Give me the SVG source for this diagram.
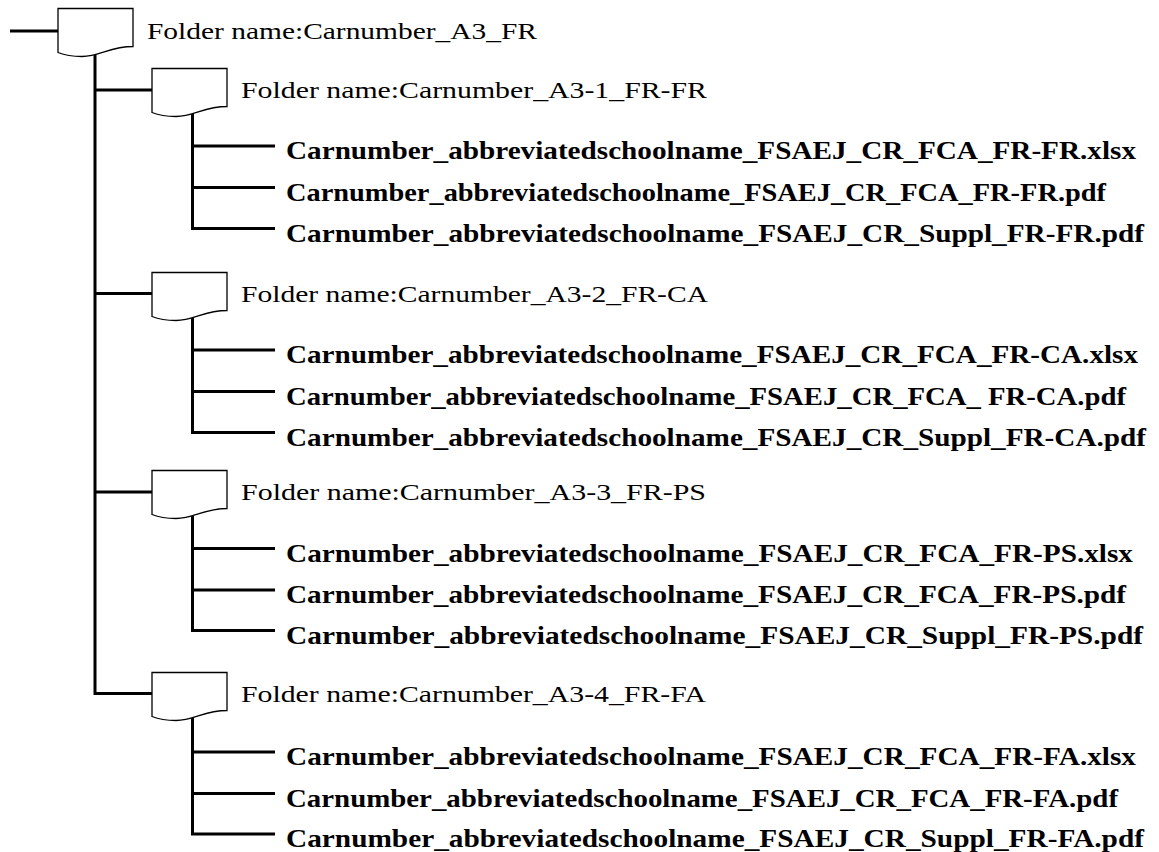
<svg xmlns="http://www.w3.org/2000/svg" width="1159" height="852" viewBox="0 0 1159 852">
<style>
.bg{fill:#ffffff}
.folder{fill:#ffffff;stroke:#000000;stroke-width:1.3;stroke-linejoin:miter}
.conn{fill:none;stroke:#000000;stroke-width:3;stroke-linecap:butt;stroke-linejoin:miter}
.ftxt{font-family:"Liberation Serif","Noto Sans CJK JP",serif;font-size:23px;fill:#000000}
.file{font-family:"Liberation Serif","Noto Sans CJK JP",serif;font-size:25.5px;font-weight:bold;fill:#000000}
</style>
<defs>
<path id="doc" d="M0,0 H75 V38 C52,38 42,48 24,48 C12,48 5,46 0,44 Z"/>
</defs>
<rect class="bg" x="0" y="0" width="1159" height="852"/>
<g id="connectors">
<line class="conn" x1="10" y1="31" x2="58" y2="31"/>
<path class="conn" d="M95,55 V693.5 H152"/>
<line class="conn" x1="95" y1="90" x2="152" y2="90"/>
<line class="conn" x1="95" y1="293.5" x2="152" y2="293.5"/>
<line class="conn" x1="95" y1="492" x2="152" y2="492"/>
<path class="conn" d="M192.5,114 V228.5 H275"/>
<line class="conn" x1="192.5" y1="146" x2="275" y2="146"/>
<line class="conn" x1="192.5" y1="187.5" x2="275" y2="187.5"/>
<path class="conn" d="M192.5,318 V432.5 H275"/>
<line class="conn" x1="192.5" y1="350" x2="275" y2="350"/>
<line class="conn" x1="192.5" y1="391.5" x2="275" y2="391.5"/>
<path class="conn" d="M192.5,516 V630.5 H275"/>
<line class="conn" x1="192.5" y1="548.5" x2="275" y2="548.5"/>
<line class="conn" x1="192.5" y1="590" x2="275" y2="590"/>
<path class="conn" d="M192.5,718 V834 H275"/>
<line class="conn" x1="192.5" y1="752" x2="275" y2="752"/>
<line class="conn" x1="192.5" y1="793.5" x2="275" y2="793.5"/>
</g>
<g id="folder-root">
<use href="#doc" class="folder" x="58" y="8.5"/>
<text class="ftxt" x="147" y="38.5" textLength="390" lengthAdjust="spacingAndGlyphs">Folder name:Carnumber_A3_FR</text>
</g>
<g id="folder-A3-1">
<use href="#doc" class="folder" x="152" y="68.5"/>
<text class="ftxt" x="241" y="98" textLength="466" lengthAdjust="spacingAndGlyphs">Folder name:Carnumber_A3-1_FR-FR</text>
</g>
<g id="files-A3-1">
<text class="file" x="286" y="159" textLength="850" lengthAdjust="spacingAndGlyphs">Carnumber_abbreviatedschoolname_FSAEJ_CR_FCA_FR-FR.xlsx</text>
<text class="file" x="286" y="200.5" textLength="820" lengthAdjust="spacingAndGlyphs">Carnumber_abbreviatedschoolname_FSAEJ_CR_FCA_FR-FR.pdf</text>
<text class="file" x="286" y="241.5" textLength="858" lengthAdjust="spacingAndGlyphs">Carnumber_abbreviatedschoolname_FSAEJ_CR_Suppl_FR-FR.pdf</text>
</g>
<g id="folder-A3-2">
<use href="#doc" class="folder" x="152" y="272.5"/>
<text class="ftxt" x="241" y="301.5" textLength="467" lengthAdjust="spacingAndGlyphs">Folder name:Carnumber_A3-2_FR-CA</text>
</g>
<g id="files-A3-2">
<text class="file" x="286" y="363" textLength="852" lengthAdjust="spacingAndGlyphs">Carnumber_abbreviatedschoolname_FSAEJ_CR_FCA_FR-CA.xlsx</text>
<text class="file" x="286" y="404.5" textLength="840" lengthAdjust="spacingAndGlyphs">Carnumber_abbreviatedschoolname_FSAEJ_CR_FCA_ FR-CA.pdf</text>
<text class="file" x="286" y="445.5" textLength="860" lengthAdjust="spacingAndGlyphs">Carnumber_abbreviatedschoolname_FSAEJ_CR_Suppl_FR-CA.pdf</text>
</g>
<g id="folder-A3-3">
<use href="#doc" class="folder" x="152" y="470.5"/>
<text class="ftxt" x="241" y="500" textLength="465" lengthAdjust="spacingAndGlyphs">Folder name:Carnumber_A3-3_FR-PS</text>
</g>
<g id="files-A3-3">
<text class="file" x="286" y="561.5" textLength="847" lengthAdjust="spacingAndGlyphs">Carnumber_abbreviatedschoolname_FSAEJ_CR_FCA_FR-PS.xlsx</text>
<text class="file" x="286" y="603" textLength="840" lengthAdjust="spacingAndGlyphs">Carnumber_abbreviatedschoolname_FSAEJ_CR_FCA_FR-PS.pdf</text>
<text class="file" x="286" y="643.5" textLength="857" lengthAdjust="spacingAndGlyphs">Carnumber_abbreviatedschoolname_FSAEJ_CR_Suppl_FR-PS.pdf</text>
</g>
<g id="folder-A3-4">
<use href="#doc" class="folder" x="152" y="672.5"/>
<text class="ftxt" x="241" y="701.5" textLength="465" lengthAdjust="spacingAndGlyphs">Folder name:Carnumber_A3-4_FR-FA</text>
</g>
<g id="files-A3-4">
<text class="file" x="286" y="765" textLength="850" lengthAdjust="spacingAndGlyphs">Carnumber_abbreviatedschoolname_FSAEJ_CR_FCA_FR-FA.xlsx</text>
<text class="file" x="286" y="806.5" textLength="832" lengthAdjust="spacingAndGlyphs">Carnumber_abbreviatedschoolname_FSAEJ_CR_FCA_FR-FA.pdf</text>
<text class="file" x="286" y="847" textLength="858" lengthAdjust="spacingAndGlyphs">Carnumber_abbreviatedschoolname_FSAEJ_CR_Suppl_FR-FA.pdf</text>
</g>
</svg>
